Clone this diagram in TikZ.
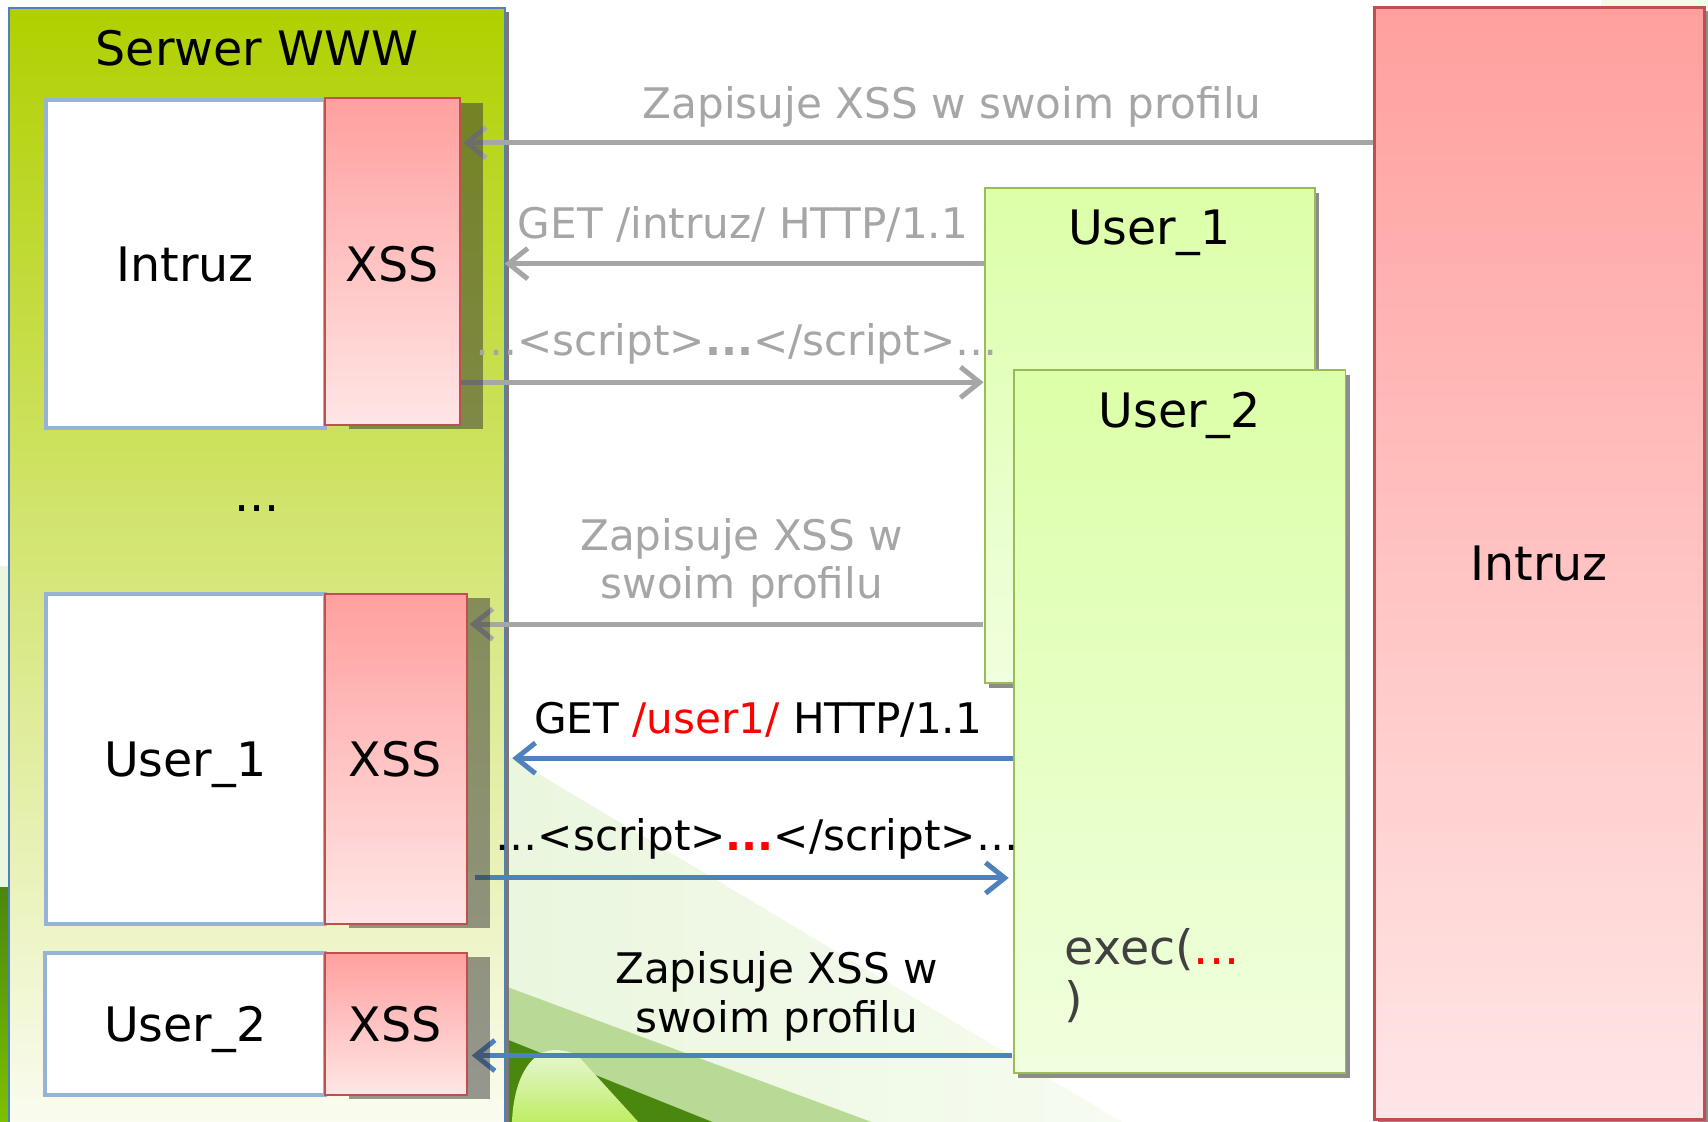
\documentclass[tikz,border=0pt]{standalone}
\usepackage{fontspec}
\setmainfont{DejaVu Sans}
\usetikzlibrary{arrows.meta,calc}
\definecolor{srvtop}{RGB}{176,208,0}
\definecolor{srvbot}{RGB}{251,252,242}
\definecolor{srvblue}{RGB}{79,129,189}
\definecolor{srvsh}{RGB}{120,120,120}
\definecolor{wbord}{RGB}{149,179,215}
\definecolor{xbord}{RGB}{192,80,77}
\definecolor{xtop}{RGB}{255,160,158}
\definecolor{xbot}{RGB}{255,230,230}
\definecolor{gbord}{RGB}{155,187,89}
\definecolor{gtop}{RGB}{220,255,168}
\definecolor{gbot}{RGB}{240,255,222}
\definecolor{arrgray}{RGB}{166,166,166}
\definecolor{arrblue}{RGB}{79,129,189}
\definecolor{shgray}{RGB}{140,140,140}
\definecolor{execgray}{RGB}{64,64,64}
\definecolor{wash}{RGB}{234,246,222}
\definecolor{washr}{RGB}{246,252,240}
\definecolor{midg}{RGB}{184,218,150}
\definecolor{darkg}{RGB}{74,135,14}
\definecolor{brightg}{RGB}{125,192,0}
\definecolor{limeg}{RGB}{190,238,100}
\definecolor{limetop}{RGB}{232,246,214}
\definecolor{faintg}{RGB}{242,250,232}
\definecolor{pure}{RGB}{255,0,0}
\pgfdeclarelayer{bgl}
\pgfdeclarelayer{arl}
\pgfsetlayers{bgl,arl,main}
\begin{document}
\begin{tikzpicture}[x=0.01cm,y=-0.01cm,
  bx/.style={inner sep=0pt, outer sep=0pt, anchor=north west},
  wbox/.style={bx, fill=white, draw=wbord, line width=1.05pt},
  xbox/.style={bx, draw=xbord, line width=0.5pt, top color=xtop, bottom color=xbot},
  dshadow/.style={bx, fill=black!80, fill opacity=0.5},
  gbox/.style={bx, draw=gbord, line width=0.5pt, top color=gtop, bottom color=gbot},
  gshadow/.style={bx, fill=shgray},
  bigt/.style={font=\fontsize{12.4}{15}\selectfont, inner sep=0pt},
  smt/.style={font=\fontsize{11}{13}\selectfont, inner sep=0pt},
  garr/.style={draw=arrgray, line width=1.3pt, -{Straight Barb[length=5pt,width=8pt]}},
  barr/.style={draw=arrblue, line width=1.3pt, -{Straight Barb[length=5pt,width=8pt]}}
]
\useasboundingbox (0,0) rectangle (1568,1030);
\begin{pgfonlayer}{bgl}
  \fill[white] (0,0) rectangle (1568,1030);
  % slide background swooshes
  \fill[wash] (0,520) rectangle (12,815);
  \shade[top color=darkg, bottom color=brightg] (0,815) rectangle (12,1030);
  \shade[left color=wash, right color=washr] (460,690) -- (1030,1030) -- (460,1030) -- cycle;
  \fill[midg] (460,904) -- (800,1030) -- (654,1030) -- (460,952) -- cycle;
  \fill[darkg] (460,952) -- (654,1030) -- (460,1030) -- cycle;
  \shade[top color=limetop, bottom color=limeg] (470,1030) .. controls (472,985) and (490,964) .. (509,964) .. controls (522,964) and (530,968) .. (534,973) -- (586,1030) -- cycle;
  \fill[faintg] (1470,0) rectangle (1568,7);
  % server box
  \fill[srvsh] (11,11) rectangle (467,1045);
  \node[bx, minimum width=4.55cm, minimum height=10.33cm, draw=srvblue, line width=0.5pt, top color=srvtop, bottom color=srvbot] (srv) at (8,7) {};
\end{pgfonlayer}

% server contents
\node[dshadow, minimum width=1.23cm, minimum height=2.99cm] (ish) at (320,95) {};
\node[wbox, minimum width=2.56cm, minimum height=3.01cm] (ibox) at (42,92) {};
\node[xbox, minimum width=1.24cm, minimum height=3.00cm] (ixss) at (298,90) {};

\node[dshadow, minimum width=1.30cm, minimum height=3.03cm] (u1sh) at (320,549) {};
\node[wbox, minimum width=2.56cm, minimum height=3.03cm] (u1box) at (42,545) {};
\node[xbox, minimum width=1.31cm, minimum height=3.03cm] (u1xss) at (298,545) {};

\node[dshadow, minimum width=1.30cm, minimum height=1.30cm] (u2sh) at (320,879) {};
\node[wbox, minimum width=2.57cm, minimum height=1.30cm] (u2box) at (41,875) {};
\node[xbox, minimum width=1.31cm, minimum height=1.30cm] (u2xss) at (298,875) {};

% user browsers
\node[gshadow, minimum width=3.03cm, minimum height=4.54cm] (u1gsh) at (908,177) {};
\node[gbox, minimum width=3.03cm, minimum height=4.54cm] (u1g) at (904,173) {};
\node[gshadow, minimum width=3.04cm, minimum height=6.45cm] (u2gsh) at (935,344) {};
\node[gbox, minimum width=3.04cm, minimum height=6.45cm] (u2g) at (931,340) {};

% intruder
\node[gshadow, minimum width=3.03cm, minimum height=10.20cm] (intrsh) at (1265,10) {};
\node[bx, minimum width=3.03cm, minimum height=10.20cm, draw=xbord, line width=0.8pt, top color=xtop, bottom color=xbot] (intr) at (1262,7) {};

% connectors
\begin{pgfonlayer}{arl}
  \draw[garr] (intr.west |- 0,131) -- ($(ixss.east |- 0,131)+(3,0)$);
  \draw[garr] (u1g.west |- 0,242) -- (srv.east |- 0,242);
  \draw[garr] (ixss.east |- 0,351) -- ($(u1g.west |- 0,351)+(-1,0)$);
  \draw[garr] ($(u1g.west |- 0,573)+(-2,0)$) -- ($(u1xss.east |- 0,573)+(2,0)$);
  \draw[barr] (u2g.west |- 0,696) -- ($(srv.east |- 0,696)+(7,0)$);
  \draw[barr] ($(u1xss.east |- 0,806)+(7,0)$) -- ($(u2g.west |- 0,806)+(-5,0)$);
  \draw[barr] ($(u2g.west |- 0,969)+(-2,0)$) -- ($(u2xss.east |- 0,969)+(4,0)$);
\end{pgfonlayer}

% texts
\node[bigt, anchor=base] (tsrv) at (236,60) {Serwer WWW};
\node[bigt, anchor=base] (tib) at (170,258) {Intruz};
\node[bigt, anchor=base] (tix) at (360,258) {XSS};
\node[bigt, anchor=base] (tdots) at (236,470) {...};
\node[bigt, anchor=base] (tu1) at (170,713) {User\_1};
\node[bigt, anchor=base] (tu1x) at (363,713) {XSS};
\node[bigt, anchor=base] (tu2) at (170,956) {User\_2};
\node[bigt, anchor=base] (tu2x) at (363,956) {XSS};
\node[bigt, anchor=base] (tu1g) at (1055,224) {User\_1};
\node[bigt, anchor=base] (tu2g) at (1083,392) {User\_2};
\node[bigt, anchor=base] (tintr) at (1413,533) {Intruz};
\node[bigt, anchor=base west, text=execgray] (texec) at (977,885) {exec(\textcolor{pure}{...}};
\node[bigt, anchor=base west, text=execgray] (texec2) at (977,933) {)};

\node[smt, anchor=base, text=arrgray] (l1) at (874,109) {Zapisuje XSS w swoim profilu};
\node[smt, anchor=base, text=arrgray] (l2) at (682,219) {GET /intruz/ HTTP/1.1};
\node[smt, anchor=base, text=arrgray] (l3) at (676,326) {…<script>\textbf{...}</script>…};
\node[smt, anchor=base, text=arrgray] (l4a) at (681,505) {Zapisuje XSS w};
\node[smt, anchor=base, text=arrgray] (l4b) at (681,549) {swoim profilu};
\node[smt, anchor=base] (l5) at (696,673) {GET \textcolor{pure}{/user1/} HTTP/1.1};
\node[smt, anchor=base] (l6) at (695,781) {…<script>\textcolor{pure}{\textbf{...}}</script>…};
\node[smt, anchor=base] (l7a) at (713,903) {Zapisuje XSS w};
\node[smt, anchor=base] (l7b) at (713,948) {swoim profilu};
\end{tikzpicture}
\end{document}
